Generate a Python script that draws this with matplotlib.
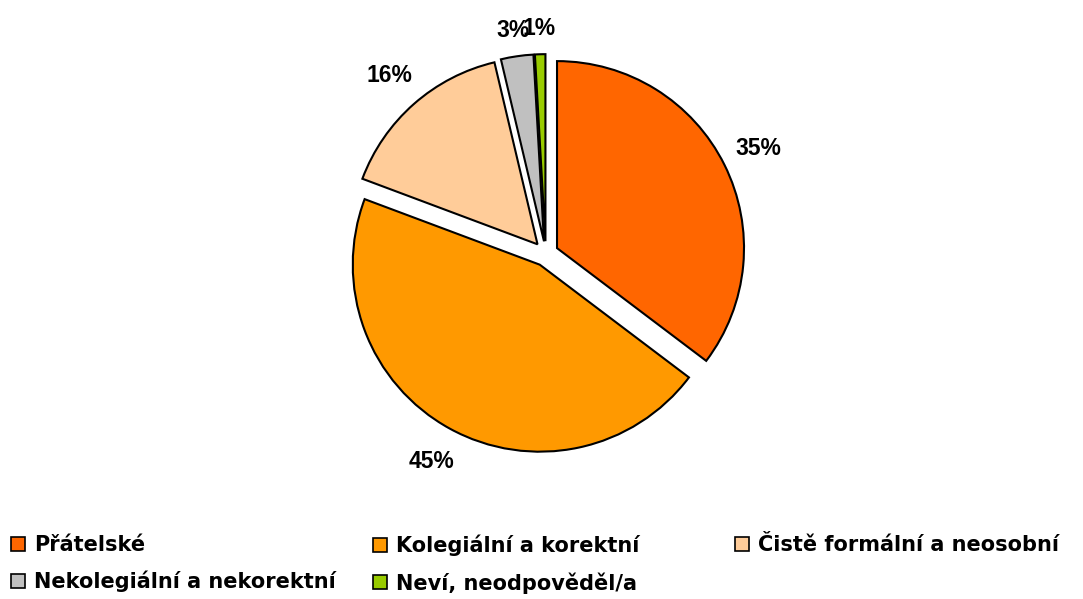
import matplotlib
matplotlib.use("Agg")
import numpy as np
import matplotlib.pyplot as plt
from matplotlib.patches import Patch

categories = ["Přátelské", "Kolegiální a korektní", "Čistě formální a neosobní",
              "Nekolegiální a nekorektní", "Neví, neodpověděl/a"]
values = [35.3, 45.4, 15.6, 2.8, 0.9]
colors = ["#FF6600", "#FF9900", "#FFCC99", "#C0C0C0", "#99CC00"]

W, H = 1083, 599
fig = plt.figure(figsize=(W / 100, H / 100), dpi=100)
ax = fig.add_axes([0, 0, 1, 1])

R = 187.0       # pie radius in pixels
cx, cy = 545.8, 253.7  # pie centre in pixels (y from top)

wedges, texts, autotexts = ax.pie(
    values, colors=colors, startangle=90, counterclock=False,
    explode=[0.067] * len(values), radius=1.0,
    autopct="%.0f%%", pctdistance=1.2,
    wedgeprops=dict(edgecolor="black", linewidth=1.5),
    textprops=dict(fontsize=16.5, fontweight="bold", family="Liberation Sans", color="black"),
)
# small slices: labels a bit closer to the pie
for w, t, v in zip(wedges, autotexts, values):
    if v < 5:
        mid = np.deg2rad((w.theta1 + w.theta2) / 2)
        c = w.center
        t.set_position((c[0] + 1.14 * np.cos(mid), c[1] + 1.14 * np.sin(mid)))

ax.set_aspect("auto")
ax.set_xlim(-cx / R, (W - cx) / R)
ax.set_ylim(-(H - cy) / R, cy / R)
ax.axis("off")

handles = [Patch(facecolor=c, edgecolor="black", linewidth=1.2) for c in colors]
cols = [(11, [0, 3]), (373, [1, 4]), (735, [2])]
for x, idx in cols:
    fig.legend([handles[i] for i in idx], [categories[i] for i in idx],
               loc="upper left", bbox_to_anchor=(x / W, 1 - 535 / H),
               frameon=False, borderpad=0, borderaxespad=0,
               handlelength=0.67, handleheight=0.67, handletextpad=0.45,
               labelspacing=0.75,
               prop=dict(family="DejaVu Sans", weight="bold", size=15))

fig.savefig("out.png", dpi=100)
